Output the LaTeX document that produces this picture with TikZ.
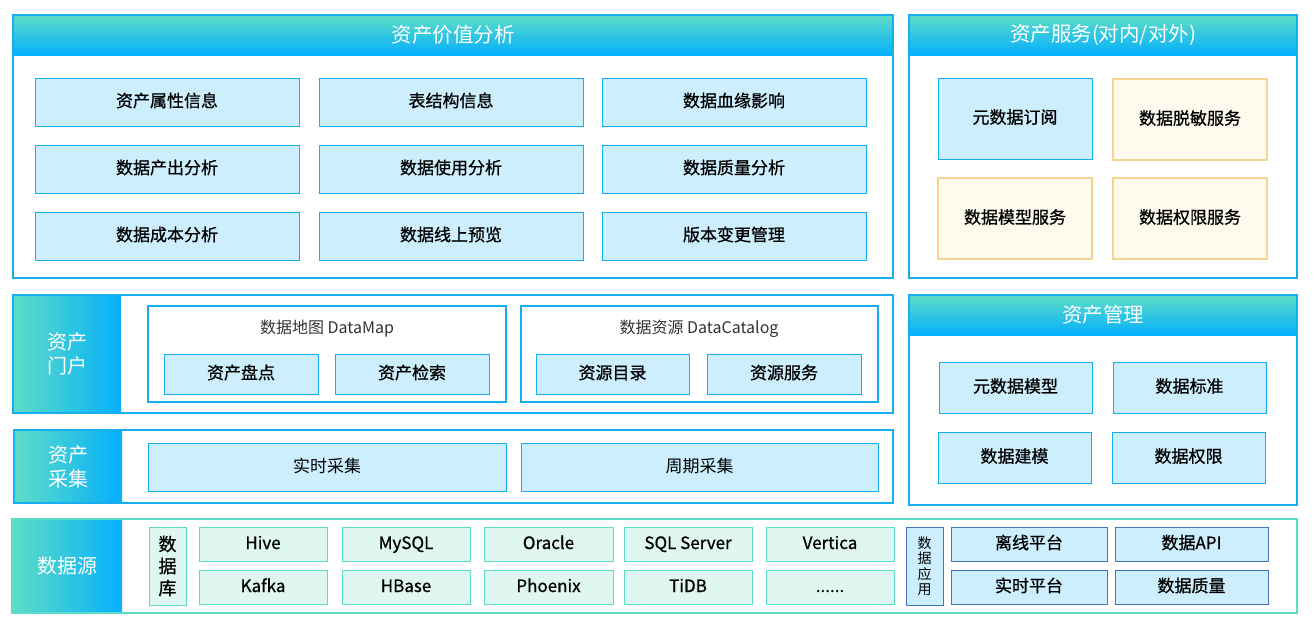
\documentclass[tikz,border=0pt]{standalone}
\usepackage{fontspec}
\setmainfont{Noto Sans CJK SC}
\newfontfamily\mfont{Noto Sans CJK SC}[FakeBold=0.7]
\definecolor{blueline}{HTML}{17AEF0}
\definecolor{bluefill}{HTML}{CCEEFD}
\definecolor{tealc}{HTML}{5EDDC6}
\definecolor{tealfill}{HTML}{DFF7F0}
\definecolor{gradblue}{HTML}{05B0FC}
\definecolor{yline}{HTML}{F7D590}
\definecolor{yfill}{HTML}{FDFAEE}
\definecolor{dblue}{HTML}{4472C4}
\definecolor{txtgray}{HTML}{333333}
\tikzset{
  every node/.style={inner sep=0pt, outer sep=0pt, anchor=north west},
  frame/.style={draw=blueline, line width=2pt},
  tframe/.style={draw=tealc, line width=2pt},
  hdr/.style={top color=tealc, bottom color=gradblue, text=white, font=\fontsize{20.5}{24}\selectfont},
  side/.style={left color=tealc, right color=gradblue, text=white, align=center, font=\fontsize{20}{24}\selectfont},
  lbl/.style={text=black, text height=13pt, text depth=3pt, font=\mfont\fontsize{17}{20}\selectfont},
  bbox/.style={lbl, draw=blueline, fill=bluefill, line width=1pt},
  ybox/.style={lbl, draw=yline, fill=yfill, line width=1.5pt},
  tbox/.style={lbl, draw=tealc, fill=tealfill, line width=1pt},
  dbox/.style={lbl, draw=dblue, fill=bluefill, line width=1pt},
  vbox/.style={align=center, text height=, text depth=},
  grp/.style={draw=blueline, line width=2pt},
  grptitle/.style={anchor=center, text=txtgray, font=\fontsize{16}{20}\selectfont},
}
\begin{document}
\begin{tikzpicture}[x=1pt,y=-1pt]
\useasboundingbox (0,0) rectangle (1315,625);
% ---------- 资产价值分析 ----------
\node[hdr, minimum width=880pt, minimum height=40pt] (h1) at (13,15) {资产价值分析};
\draw[frame] (13,15) rectangle (893,278);
\node[bbox, minimum width=264pt, minimum height=48pt] (v11) at (35,78) {资产属性信息};
\node[bbox, minimum width=264pt, minimum height=48pt] (v12) at (319,78) {表结构信息};
\node[bbox, minimum width=264pt, minimum height=48pt] (v13) at (602,78) {数据血缘影响};
\node[bbox, minimum width=264pt, minimum height=48pt] (v21) at (35,145) {数据产出分析};
\node[bbox, minimum width=264pt, minimum height=48pt] (v22) at (319,145) {数据使用分析};
\node[bbox, minimum width=264pt, minimum height=48pt] (v23) at (602,145) {数据质量分析};
\node[bbox, minimum width=264pt, minimum height=48pt] (v31) at (35,212) {数据成本分析};
\node[bbox, minimum width=264pt, minimum height=48pt] (v32) at (319,212) {数据线上预览};
\node[bbox, minimum width=264pt, minimum height=48pt] (v33) at (602,212) {版本变更管理};
% ---------- 资产服务 ----------
\node[hdr, minimum width=388pt, minimum height=40pt] (h2) at (909,15) {资产服务(对内/对外)};
\draw[frame] (909,15) rectangle (1297,278);
\node[bbox, minimum width=154pt, minimum height=81pt] (s1) at (938,78) {元数据订阅};
\node[ybox, minimum width=154pt, minimum height=81pt] (s2) at (1113,79) {数据脱敏服务};
\node[ybox, minimum width=154pt, minimum height=81pt] (s3) at (938,178) {数据模型服务};
\node[ybox, minimum width=154pt, minimum height=81pt] (s4) at (1113,178) {数据权限服务};
% ---------- 资产门户 ----------
\node[side, minimum width=108pt, minimum height=118pt] (p0) at (13,295) {资产\\门户};
\draw[frame] (13,295) rectangle (893,413);
\draw[grp] (148,306) rectangle (506,402);
\node[grptitle] (dm) at (327,329) {数据地图 DataMap};
\node[bbox, minimum width=154pt, minimum height=40pt] (p1) at (164,354) {资产盘点};
\node[bbox, minimum width=154pt, minimum height=40pt] (p2) at (335,354) {资产检索};
\draw[grp] (521,306) rectangle (878,402);
\node[grptitle] (dc) at (699,329) {数据资源 DataCatalog};
\node[bbox, minimum width=153pt, minimum height=40pt] (p3) at (536,354) {资源目录};
\node[bbox, minimum width=154pt, minimum height=40pt] (p4) at (707,354) {资源服务};
% ---------- 资产采集 ----------
\node[side, minimum width=108pt, minimum height=73pt] (c0) at (14,430) {资产\\采集};
\draw[frame] (14,430) rectangle (893,503);
\node[bbox, minimum width=358pt, minimum height=48pt, font=\fontsize{17}{20}\selectfont] (c1) at (148,443) {实时采集};
\node[bbox, minimum width=357pt, minimum height=48pt, font=\fontsize{17}{20}\selectfont] (c2) at (521,443) {周期采集};
% ---------- 资产管理 ----------
\node[hdr, minimum width=388pt, minimum height=40pt] (h3) at (909,295) {资产管理};
\draw[frame] (909,295) rectangle (1297,505);
\node[bbox, minimum width=153pt, minimum height=51pt] (m1) at (939,362) {元数据模型};
\node[bbox, minimum width=153pt, minimum height=51pt] (m2) at (1113,362) {数据标准};
\node[bbox, minimum width=153pt, minimum height=51pt] (m3) at (938,432) {数据建模};
\node[bbox, minimum width=153pt, minimum height=51pt] (m4) at (1112,432) {数据权限};
% ---------- 数据源 ----------
\node[side, minimum width=110pt, minimum height=94pt] (d0) at (12,519) {数据源};
\draw[tframe] (12,519) rectangle (1297,613);
\node[tbox, vbox, minimum width=37pt, minimum height=78pt, font=\mfont\fontsize{18}{22}\selectfont] (db) at (149,527) {数\\据\\库};
\node[tbox, minimum width=128pt, minimum height=34pt] (d11) at (199,527) {Hive};
\node[tbox, minimum width=128pt, minimum height=34pt] (d12) at (342,527) {MySQL};
\node[tbox, minimum width=129pt, minimum height=34pt] (d13) at (484,527) {Oracle};
\node[tbox, minimum width=128pt, minimum height=34pt] (d14) at (624,527) {SQL Server};
\node[tbox, minimum width=128pt, minimum height=34pt] (d15) at (766,527) {Vertica};
\node[tbox, minimum width=128pt, minimum height=34pt] (d21) at (199,570) {Kafka};
\node[tbox, minimum width=128pt, minimum height=34pt] (d22) at (342,570) {HBase};
\node[tbox, minimum width=129pt, minimum height=34pt] (d23) at (484,570) {Phoenix};
\node[tbox, minimum width=128pt, minimum height=34pt] (d24) at (624,570) {TiDB};
\node[tbox, minimum width=128pt, minimum height=34pt] (d25) at (766,570) {......};
\node[dbox, vbox, minimum width=37pt, minimum height=78pt, font=\fontsize{14}{15.5}\selectfont] (da) at (906,527) {数\\据\\应\\用};
\node[dbox, minimum width=156pt, minimum height=34pt] (a11) at (951,527) {离线平台};
\node[dbox, minimum width=153pt, minimum height=34pt] (a12) at (1115,527) {数据API};
\node[dbox, minimum width=156pt, minimum height=34pt] (a21) at (951,570) {实时平台};
\node[dbox, minimum width=153pt, minimum height=34pt] (a22) at (1115,570) {数据质量};
\end{tikzpicture}
\end{document}
